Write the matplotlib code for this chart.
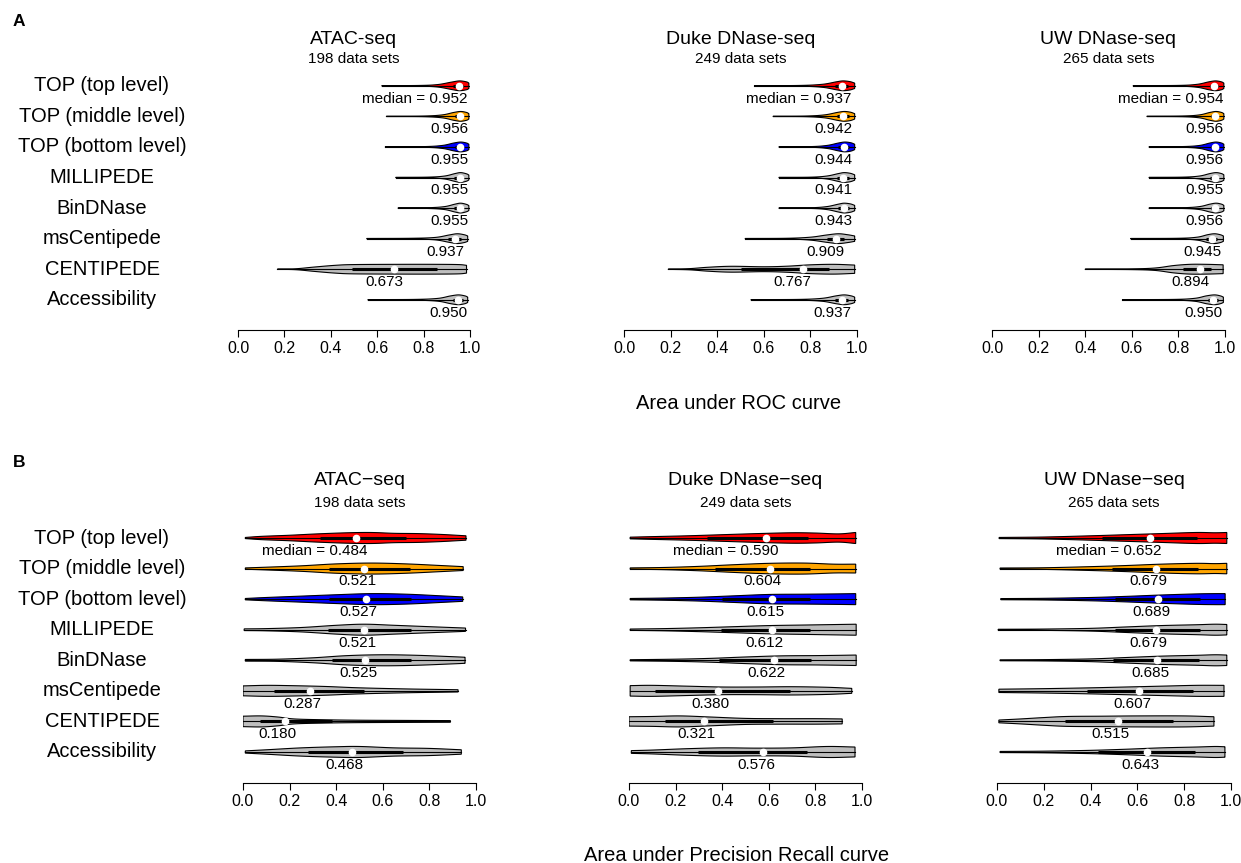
import numpy as np
import matplotlib.pyplot as plt

plt.rcParams['font.family'] = ['Liberation Sans', 'DejaVu Sans']

W, H = 1241, 863

methods = ["TOP (top level)", "TOP (middle level)", "TOP (bottom level)", "MILLIPEDE",
           "BinDNase", "msCentipede", "CENTIPEDE", "Accessibility"]
fills = ["#FF0000", "#FFA500", "#0000FF", "#BEBEBE", "#BEBEBE", "#BEBEBE", "#BEBEBE", "#BEBEBE"]

roc_titles = ["ATAC-seq", "Duke DNase-seq", "UW DNase-seq"]
pr_titles = ["ATAC\u2212seq", "Duke DNase\u2212seq", "UW DNase\u2212seq"]
n_sets = [198, 249, 265]
ticks = [0.0, 0.2, 0.4, 0.6, 0.8, 1.0]

# ---- area under ROC curve ----
roc_med_atac = [0.952, 0.956, 0.955, 0.955, 0.955, 0.937, 0.673, 0.950]
roc_med_duke = [0.937, 0.942, 0.944, 0.941, 0.943, 0.909, 0.767, 0.937]
roc_med_uw = [0.954, 0.956, 0.956, 0.955, 0.956, 0.945, 0.894, 0.950]

roc_q1_atac = [0.925, 0.935, 0.935, 0.93, 0.93, 0.905, 0.49, 0.925]
roc_q3_atac = [0.97, 0.97, 0.97, 0.97, 0.97, 0.96, 0.856, 0.97]
roc_q1_duke = [0.905, 0.915, 0.92, 0.915, 0.92, 0.87, 0.50, 0.905]
roc_q3_duke = [0.96, 0.965, 0.965, 0.965, 0.965, 0.945, 0.88, 0.96]
roc_q1_uw = [0.935, 0.94, 0.94, 0.935, 0.94, 0.92, 0.82, 0.925]
roc_q3_uw = [0.97, 0.97, 0.97, 0.97, 0.97, 0.965, 0.94, 0.97]

# violin outlines: (positions, relative half-width), first/last position = min/max
roc_shape_atac = [
    ([.62, .78, .86, .92, .955, .985, .995], [.04, .07, .25, .75, 1.0, .8, .55]),
    ([.64, .80, .88, .93, .96, .985, .995], [.04, .07, .3, .8, 1.0, .8, .55]),
    ([.635, .80, .88, .93, .96, .985, .995], [.04, .07, .3, .8, 1.0, .8, .55]),
    ([.68, .82, .89, .935, .96, .985, .995], [.04, .08, .3, .8, 1.0, .75, .5]),
    ([.69, .82, .89, .935, .96, .985, .995], [.04, .08, .3, .8, 1.0, .75, .5]),
    ([.555, .75, .85, .91, .945, .975, .99], [.04, .08, .25, .75, 1.0, .8, .55]),
    ([.17, .25, .33, .42, .5, .7, .85, .95, .985], [.02, .1, .45, .8, .95, 1.0, 1.0, .95, .8]),
    ([.56, .76, .86, .915, .95, .978, .99], [.04, .08, .28, .78, 1.0, .8, .55]),
]
roc_shape_duke = [
    ([.56, .75, .85, .91, .94, .97, .99], [.04, .07, .3, .8, 1.0, .85, .55]),
    ([.64, .78, .86, .915, .945, .972, .99], [.04, .07, .3, .8, 1.0, .85, .55]),
    ([.665, .8, .87, .92, .948, .974, .99], [.04, .07, .3, .8, 1.0, .85, .55]),
    ([.665, .8, .87, .92, .945, .972, .99], [.04, .07, .3, .8, 1.0, .85, .55]),
    ([.665, .8, .87, .92, .945, .972, .99], [.04, .07, .3, .8, 1.0, .85, .55]),
    ([.52, .7, .8, .87, .92, .96, .99], [.04, .08, .3, .75, 1.0, .8, .55]),
    ([.19, .28, .36, .46, .6, .7, .8, .9, .99], [.03, .12, .4, .6, .5, .62, .9, 1.0, .85]),
    ([.545, .75, .85, .91, .945, .975, .99], [.04, .08, .3, .8, 1.0, .8, .55]),
]
roc_shape_uw = [
    ([.606, .8, .88, .93, .96, .985, .995], [.04, .08, .3, .8, 1.0, .8, .55]),
    ([.665, .82, .89, .935, .962, .985, .995], [.04, .08, .3, .8, 1.0, .8, .55]),
    ([.674, .82, .89, .935, .962, .985, .995], [.04, .08, .3, .8, 1.0, .8, .55]),
    ([.674, .82, .89, .935, .962, .985, .995], [.04, .08, .3, .8, 1.0, .8, .55]),
    ([.674, .82, .89, .935, .962, .985, .995], [.04, .08, .3, .8, 1.0, .8, .55]),
    ([.595, .8, .88, .925, .955, .98, .993], [.04, .08, .3, .8, 1.0, .8, .55]),
    ([.40, .6, .7, .78, .85, .92, .992], [.03, .08, .25, .75, 1.0, 1.0, .9]),
    ([.56, .78, .87, .92, .955, .98, .993], [.04, .08, .3, .8, 1.0, .8, .55]),
]

# ---- area under precision recall curve ----
pr_med_atac = [0.484, 0.521, 0.527, 0.521, 0.525, 0.287, 0.180, 0.468]
pr_med_duke = [0.590, 0.604, 0.615, 0.612, 0.622, 0.380, 0.321, 0.576]
pr_med_uw = [0.652, 0.679, 0.689, 0.679, 0.685, 0.607, 0.515, 0.643]

pr_q1_atac = [0.33, 0.37, 0.37, 0.365, 0.38, 0.135, 0.073, 0.28]
pr_q3_atac = [0.70, 0.717, 0.72, 0.72, 0.72, 0.52, 0.38, 0.685]
pr_q1_duke = [0.333, 0.37, 0.398, 0.393, 0.386, 0.112, 0.155, 0.296]
pr_q3_duke = [0.77, 0.777, 0.777, 0.777, 0.78, 0.69, 0.617, 0.763]
pr_q1_uw = [0.447, 0.49, 0.504, 0.504, 0.496, 0.383, 0.29, 0.432]
pr_q3_uw = [0.853, 0.86, 0.868, 0.868, 0.864, 0.838, 0.752, 0.846]

pr_shape_atac = [
    ([.01, .08, .2, .32, .45, .55, .65, .75, .85, .957], [.1, .3, .5, .75, .95, 1.0, .85, .8, .65, .4]),
    ([.01, .1, .25, .4, .55, .7, .85, .945], [.12, .25, .5, .85, 1.0, .85, .55, .35]),
    ([.01, .1, .25, .4, .55, .7, .85, .943], [.12, .3, .55, .8, 1.0, .9, .6, .4]),
    ([.005, .1, .25, .4, .52, .65, .8, .955], [.15, .2, .4, .8, 1.0, .8, .55, .3]),
    ([.01, .15, .3, .45, .6, .75, .9, .953], [.15, .2, .45, .85, 1.0, .9, .65, .55]),
    ([.0, .1, .2, .35, .5, .7, .85, .923], [.9, 1.0, .95, .8, .55, .35, .25, .2]),
    ([.0, .08, .15, .22, .35, .5, .7, .89], [.95, 1.0, .8, .45, .3, .22, .18, .15]),
    ([.01, .1, .25, .4, .5, .65, .8, .937], [.2, .4, .75, .95, 1.0, .75, .65, .4]),
]
pr_shape_duke = [
    ([.005, .1, .25, .4, .55, .7, .8, .9, .973], [.15, .25, .4, .6, .8, .95, .9, .75, 1.0]),
    ([.005, .15, .3, .45, .6, .75, .88, .973], [.12, .2, .4, .7, .95, 1.0, .8, .8]),
    ([.005, .15, .3, .45, .6, .75, .88, .973], [.12, .2, .35, .6, .85, .9, .95, 1.0]),
    ([.005, .15, .3, .45, .6, .75, .9, .975], [.12, .2, .35, .55, .75, .85, .95, 1.0]),
    ([.005, .2, .35, .5, .65, .8, .9, .975], [.1, .2, .35, .6, .8, .85, .9, .95]),
    ([.005, .1, .25, .4, .55, .7, .85, .956], [.95, 1.0, .85, .7, .7, .75, .65, .45]),
    ([.0, .1, .22, .35, .5, .65, .8, .915], [.85, .9, 1.0, .8, .55, .5, .5, .45]),
    ([.01, .1, .25, .4, .55, .7, .85, .97], [.25, .35, .6, .75, .7, .75, 1.0, .9]),
]
pr_shape_uw = [
    ([.009, .2, .4, .55, .7, .85, .93, .982], [.1, .18, .4, .6, .8, 1.0, .95, 1.0]),
    ([.013, .2, .4, .55, .7, .85, .93, .982], [.1, .15, .35, .55, .8, .95, .9, .95]),
    ([.016, .2, .4, .55, .7, .85, .93, .975], [.1, .15, .3, .5, .75, .95, 1.0, 1.0]),
    ([.005, .2, .4, .55, .7, .85, .93, .982], [.08, .12, .25, .5, .75, .9, 1.0, .95]),
    ([.013, .2, .4, .55, .7, .85, .93, .982], [.08, .12, .25, .5, .75, .9, 1.0, .95]),
    ([.008, .2, .4, .55, .7, .85, .97], [.3, .4, .55, .7, .85, 1.0, 1.0]),
    ([.008, .1, .2, .3, .45, .6, .8, .927], [.25, .45, .7, .9, .95, 1.0, 1.0, .85]),
    ([.013, .2, .4, .55, .7, .85, .93, .974], [.1, .15, .3, .5, .75, .9, 1.0, .95]),
]


def smooth_outline(xs, ws, n=20):
    # Catmull-Rom through the outline knots
    p = np.column_stack([xs, ws]).astype(float)
    p = np.vstack([2 * p[0] - p[1], p, 2 * p[-1] - p[-2]])
    t = np.linspace(0, 1, n, endpoint=False)[:, None]
    segs = []
    for i in range(1, len(p) - 2):
        p0, p1, p2, p3 = p[i - 1], p[i], p[i + 1], p[i + 2]
        c = 0.5 * (2 * p1 + (-p0 + p2) * t + (2 * p0 - 5 * p1 + 4 * p2 - p3) * t ** 2
                   + (-p0 + 3 * p1 - 3 * p2 + p3) * t ** 3)
        segs.append(c)
    segs.append(p[-2][None, :])
    out = np.vstack(segs)
    x = np.clip(out[:, 0], xs[0], xs[-1])
    w = np.clip(out[:, 1], 0.015, None)
    return x, w


def draw_panel(ax, shapes, q1s, q3s, meds, half, label_dx):
    for i in range(len(methods)):
        row = i + 1
        xs, ws = shapes[i]
        x, w = smooth_outline(xs, ws)
        ax.fill(np.r_[x, x[::-1]], np.r_[row - w * half, (row + w * half)[::-1]],
                facecolor=fills[i], edgecolor='black', lw=0.8, zorder=2)
        ax.plot([xs[0], xs[-1]], [row, row], color='black', lw=0.8, zorder=3)
        ax.plot([q1s[i], q3s[i]], [row, row], color='black', lw=2.2,
                solid_capstyle='butt', zorder=3)
        ax.plot(meds[i], row, 'o', color='white', mec='white', ms=4.5, zorder=4)
        txt = "%.3f" % meds[i]
        if i == 0:
            txt = "median = " + txt
        ax.annotate(txt, xy=(meds[i], row), xytext=(label_dx, -9.3),
                    textcoords='offset points', ha='right', va='center', fontsize=11)
    ax.set_xlim(0, 1)
    ax.set_ylim(9, 0.5)
    for s in ['top', 'left', 'right']:
        ax.spines[s].set_visible(False)
    ax.spines['bottom'].set_bounds(0, 1)
    ax.spines['bottom'].set_linewidth(0.8)
    ax.set_yticks([])
    ax.set_xticks(ticks)
    ax.set_xticklabels(["%.1f" % v for v in ticks])
    ax.tick_params(axis='x', length=5, width=0.8, pad=3, labelsize=11.5)
    ax.patch.set_visible(False)


fig = plt.figure(figsize=(W / 100, H / 100), dpi=100)


def fx(px):
    return px / W


def fy(py):
    return 1 - py / H


# panel geometry in pixels: (x of 0.0, x of 1.0), first row y, row spacing
roc_cols = [(238, 470), (624, 857), (992, 1225)]
pr_cols = [(243, 476), (629, 862), (997, 1231)]
roc_row1, pr_row1, step = 85.8, 538.0, 30.57

roc_sets = [
    (roc_shape_atac, roc_q1_atac, roc_q3_atac, roc_med_atac),
    (roc_shape_duke, roc_q1_duke, roc_q3_duke, roc_med_duke),
    (roc_shape_uw, roc_q1_uw, roc_q3_uw, roc_med_uw),
]
pr_sets = [
    (pr_shape_atac, pr_q1_atac, pr_q3_atac, pr_med_atac),
    (pr_shape_duke, pr_q1_duke, pr_q3_duke, pr_med_duke),
    (pr_shape_uw, pr_q1_uw, pr_q3_uw, pr_med_uw),
]

for cols, sets, row1, titles, title_y, sub_y, half, dx in [
        (roc_cols, roc_sets, roc_row1, roc_titles, 40, 59, 0.16, 6.5),
        (pr_cols, pr_sets, pr_row1, pr_titles, 480, 503, 0.18, 8.6)]:
    top = row1 - 0.5 * step
    bottom = row1 + 8 * step
    for j, (x0, x1) in enumerate(cols):
        ax = fig.add_axes([fx(x0), fy(bottom), fx(x1 - x0), (bottom - top) / H])
        shapes, q1s, q3s, meds = sets[j]
        draw_panel(ax, shapes, q1s, q3s, meds, half, dx)
        cx = fx((x0 + x1) / 2)
        fig.text(cx, fy(title_y), titles[j], ha='center', va='center', fontsize=14)
        fig.text(cx, fy(sub_y), "%d data sets" % n_sets[j], ha='center', va='center',
                 fontsize=11)
    for i, name in enumerate(methods):
        fig.text(fx(102), fy(row1 + i * step), name, ha='center', va='center', fontsize=14.5)

fig.text(fx(739), fy(403), "Area under ROC curve", ha='center', va='center', fontsize=14.5)
fig.text(fx(737), fy(855), "Area under Precision Recall curve", ha='center', va='center',
         fontsize=14.5)
fig.text(fx(19), fy(21), "A", ha='center', va='center', fontsize=12.5, fontweight='bold')
fig.text(fx(19), fy(462), "B", ha='center', va='center', fontsize=12.5, fontweight='bold')

fig.savefig("out.png", dpi=100)
